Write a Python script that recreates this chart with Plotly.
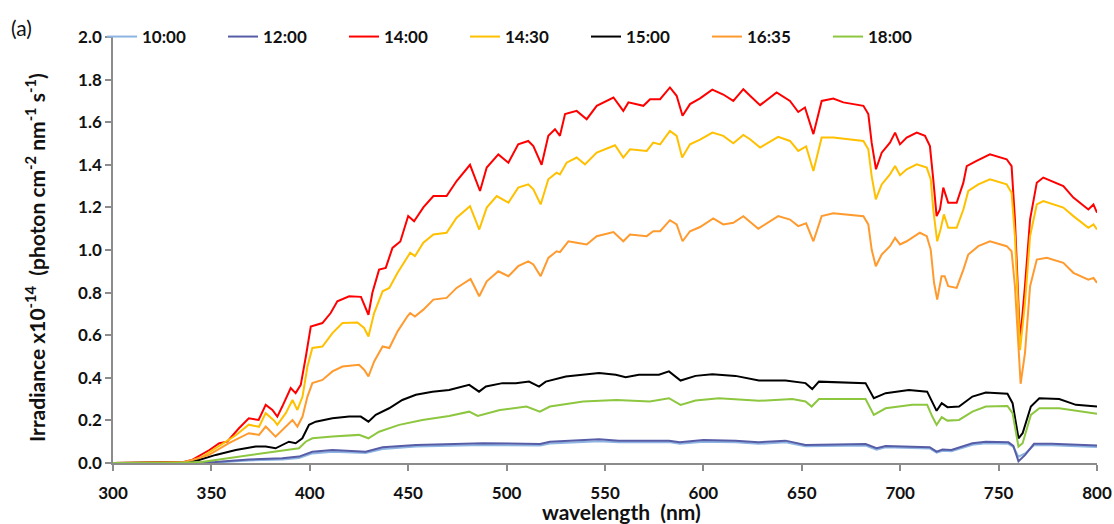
import plotly.graph_objects as go

# ---------------- data ----------------
series_names = ["10:00", "12:00", "14:00", "14:30", "15:00", "16:35", "18:00"]

wl_1000 = [300, 340, 355, 369, 386, 394.5, 401.3, 411.5, 428.4, 437, 454, 488, 517, 522, 547, 557,
           572.4, 582.5, 588, 600, 616.3, 628, 641.7, 651.9, 682.4, 688, 692.6, 715, 718.5, 721.5,
           726, 736.7, 743.5, 755, 757.5, 760.1, 763.5, 768, 777, 800]
irr_1000 = [0, 0, 0.004, 0.012, 0.017, 0.024, 0.045, 0.053, 0.047, 0.066, 0.077, 0.085, 0.082, 0.092,
            0.102, 0.097, 0.097, 0.098, 0.090, 0.100, 0.098, 0.090, 0.097, 0.079, 0.082, 0.063, 0.074,
            0.068, 0.048, 0.057, 0.055, 0.086, 0.093, 0.090, 0.075, 0.030, 0.045, 0.083, 0.083, 0.075]

wl_1200 = [300, 340, 352, 369, 386, 394.5, 401.3, 411.5, 428.4, 437, 454, 488, 517, 522, 547, 557,
           572.4, 582.5, 588, 600, 616.3, 628, 641.7, 651.9, 682.4, 688, 692.6, 715, 718.5, 721.5,
           726, 736.7, 743.5, 755, 757.5, 760.1, 763.5, 768, 777, 800]
irr_1200 = [0, 0, 0.005, 0.017, 0.022, 0.030, 0.053, 0.061, 0.053, 0.074, 0.085, 0.093, 0.089, 0.100,
            0.111, 0.105, 0.105, 0.105, 0.097, 0.108, 0.105, 0.097, 0.105, 0.085, 0.089, 0.069, 0.080,
            0.074, 0.053, 0.063, 0.061, 0.093, 0.100, 0.097, 0.080, 0.008, 0.038, 0.090, 0.090, 0.082]

wl_1400 = [300, 320, 335, 340, 349, 354, 358, 364, 369, 374, 377.6, 381, 383.5, 386, 390.3, 392.8,
           395.4, 398, 400.5, 406.4, 410.6, 414, 420, 426, 428, 429.8, 431.8, 435.2, 438.6, 442, 446,
           450, 453, 457.7, 462.8, 469.5, 474.6, 481.4, 486.5, 489.9, 495.8, 500.9, 505.9, 511, 513.6,
           517.8, 521.2, 524.6, 527.1, 529.7, 535.6, 540.7, 545.8, 554.3, 559.3, 561.9, 569.5, 572.9,
           578, 583, 586.4, 589.4, 593.2, 598.3, 604.5, 610.1, 615.2, 620.3, 623.7, 628.8, 637.2, 644,
           648.2, 651.6, 655.9, 660.1, 666, 671.1, 681.3, 683.8, 685.5, 687.7, 690.6, 694.8, 697.4,
           699.9, 703.3, 708.4, 712.6, 715.1, 716.8, 718.5, 720.2, 721.9, 724.4, 728.7, 732.1, 733.8,
           738.8, 745.6, 754.1, 756.6, 758.3, 760.9, 763.4, 766, 769.4, 772.7, 782.9, 788, 795.6, 798.2,
           800]
irr_1400 = [0, 0, 0.003, 0.014, 0.061, 0.093, 0.100, 0.163, 0.210, 0.202, 0.273, 0.249, 0.218, 0.265,
            0.352, 0.328, 0.367, 0.500, 0.641, 0.657, 0.704, 0.759, 0.783, 0.780, 0.736, 0.696, 0.799,
            0.908, 0.916, 1.010, 1.040, 1.160, 1.135, 1.200, 1.253, 1.253, 1.324, 1.400, 1.277, 1.387,
            1.449, 1.410, 1.496, 1.512, 1.488, 1.400, 1.536, 1.567, 1.536, 1.638, 1.653, 1.614, 1.677,
            1.716, 1.653, 1.693, 1.677, 1.708, 1.708, 1.763, 1.724, 1.630, 1.685, 1.712, 1.753, 1.730,
            1.700, 1.755, 1.724, 1.680, 1.740, 1.700, 1.648, 1.669, 1.544, 1.700, 1.711, 1.693, 1.677,
            1.638, 1.504, 1.379, 1.457, 1.504, 1.551, 1.496, 1.528, 1.551, 1.536, 1.488, 1.332, 1.159,
            1.190, 1.293, 1.222, 1.222, 1.316, 1.394, 1.418, 1.449, 1.426, 1.394, 1.144, 0.570, 0.830,
            1.144, 1.316, 1.340, 1.300, 1.246, 1.190, 1.214, 1.175]

wl_1430 = [300, 320, 336, 343.7, 352.2, 362.4, 369, 374.2, 377.6, 381.8, 383.5, 387.8, 391.2, 393.7,
           396.3, 398.8, 401.3, 406.4, 411.5, 416.6, 424.2, 427.6, 429.8, 432.7, 437, 440.4, 444.6,
           448.9, 451, 453.4, 457.7, 462.8, 469.5, 474.6, 481.4, 486.1, 489.9, 495, 500.9, 505.9, 511,
           513.6, 517.3, 521.2, 525.4, 527.1, 530.5, 535.6, 539.8, 545.8, 555.1, 559.3, 562.7, 571.2,
           574.5, 578, 583, 586.4, 589.2, 593.2, 598.3, 604.6, 610.1, 615.2, 620.3, 623.7, 628.8, 638,
           644, 648.2, 652.2, 655.9, 660.1, 666, 681.3, 683.8, 685.5, 687.6, 690.6, 694.8, 697.4, 699.9,
           703.3, 708.4, 713.5, 715.5, 716.8, 718.8, 720.5, 722.2, 724.4, 728.7, 732.1, 734.6, 739.7,
           745.6, 754.1, 756.6, 758.3, 760.9, 763.4, 766, 769.4, 772.7, 782.9, 788, 795.6, 798.2, 800]
irr_1430 = [0, 0, 0.003, 0.020, 0.070, 0.130, 0.180, 0.170, 0.234, 0.200, 0.179, 0.234, 0.296, 0.249,
            0.312, 0.453, 0.540, 0.547, 0.610, 0.657, 0.660, 0.634, 0.594, 0.704, 0.806, 0.822, 0.893,
            0.955, 0.987, 0.971, 1.034, 1.073, 1.081, 1.152, 1.206, 1.096, 1.199, 1.253, 1.222, 1.293,
            1.308, 1.285, 1.214, 1.332, 1.363, 1.355, 1.410, 1.434, 1.402, 1.457, 1.492, 1.434, 1.473,
            1.465, 1.504, 1.496, 1.559, 1.536, 1.434, 1.496, 1.518, 1.551, 1.536, 1.501, 1.540, 1.520,
            1.481, 1.531, 1.512, 1.465, 1.486, 1.371, 1.528, 1.528, 1.512, 1.473, 1.347, 1.238, 1.308,
            1.355, 1.394, 1.351, 1.379, 1.402, 1.387, 1.332, 1.190, 1.041, 1.096, 1.167, 1.104, 1.104,
            1.190, 1.277, 1.308, 1.332, 1.308, 1.269, 1.065, 0.530, 0.750, 1.065, 1.214, 1.230, 1.199,
            1.159, 1.104, 1.120, 1.096]

wl_1500 = [300, 325, 336, 343.7, 352.2, 362.4, 372.5, 377.6, 382.6, 389.4, 392.8, 396.2, 399.6, 403,
           411.5, 420, 425.9, 429.8, 433.5, 440.3, 447, 453.9, 462.3, 470.8, 481, 486, 489.5, 497.9,
           504.7, 511.4, 516.5, 519.9, 530.1, 538.5, 547, 555.5, 560.5, 567.2, 577.4, 582.5, 588.4, 596,
           604.5, 616.3, 628.2, 641.7, 651.9, 655.3, 658.7, 682.4, 686.6, 692.6, 704.4, 713.7, 716.3,
           718.5, 721.1, 724, 729.9, 736.7, 743.5, 754.5, 757.1, 760.1, 762.2, 766.4, 770.7, 780.8,
           789.3, 800]
irr_1500 = [0, 0, 0.003, 0.014, 0.038, 0.061, 0.077, 0.077, 0.069, 0.100, 0.093, 0.116, 0.179, 0.194,
            0.210, 0.218, 0.218, 0.194, 0.226, 0.257, 0.296, 0.320, 0.335, 0.343, 0.367, 0.335, 0.359,
            0.375, 0.375, 0.382, 0.359, 0.382, 0.406, 0.414, 0.422, 0.414, 0.403, 0.414, 0.414, 0.430,
            0.387, 0.409, 0.417, 0.409, 0.387, 0.387, 0.375, 0.347, 0.382, 0.375, 0.304, 0.328, 0.343,
            0.335, 0.288, 0.245, 0.281, 0.262, 0.265, 0.312, 0.331, 0.325, 0.281, 0.116, 0.140, 0.265,
            0.304, 0.300, 0.273, 0.265]

wl_1635 = [300, 320, 335, 340.3, 348.8, 358.9, 369, 374.2, 377.6, 382.6, 387.8, 391.2, 393.7, 396.3,
           398.8, 401.3, 406.4, 411.5, 416.6, 425, 427.6, 429.8, 432.7, 437, 440.4, 444.6, 449.7, 451,
           453.4, 457.7, 462.8, 469.5, 474.6, 481.7, 486.1, 489.9, 495.8, 500.9, 505.9, 511, 513.6,
           517.3, 521.2, 525.4, 527.1, 531.4, 535.6, 540.7, 545.8, 554.3, 559.3, 562.7, 571.2, 574.5,
           578, 583, 586.4, 589.4, 593.2, 598.3, 605, 610.1, 615.2, 620.3, 627.9, 638, 644, 648.2, 652.2,
           655.9, 660.1, 666, 681.3, 683.8, 685.5, 687.6, 690.6, 694.8, 697.4, 699.9, 703.3, 710, 713.5,
           715.5, 717.2, 718.8, 721, 722.6, 724.4, 728.7, 732.1, 734.6, 739.7, 745.6, 754.1, 756.6,
           758.3, 761.2, 763.4, 766, 769.4, 774.5, 782.9, 788, 795.6, 798.2, 800]
irr_1635 = [0, 0, 0.003, 0.014, 0.038, 0.093, 0.140, 0.132, 0.171, 0.124, 0.171, 0.202, 0.171, 0.218,
            0.312, 0.375, 0.390, 0.430, 0.453, 0.461, 0.438, 0.406, 0.477, 0.547, 0.540, 0.618, 0.690,
            0.704, 0.688, 0.720, 0.767, 0.775, 0.822, 0.864, 0.783, 0.853, 0.900, 0.877, 0.924, 0.947,
            0.932, 0.877, 0.963, 0.994, 0.990, 1.041, 1.034, 1.026, 1.065, 1.084, 1.041, 1.073, 1.065,
            1.088, 1.088, 1.140, 1.120, 1.041, 1.088, 1.108, 1.148, 1.120, 1.128, 1.159, 1.100, 1.159,
            1.143, 1.112, 1.125, 1.041, 1.159, 1.172, 1.159, 1.120, 1.002, 0.924, 0.979, 1.018, 1.057,
            1.026, 1.041, 1.081, 1.065, 1.002, 0.846, 0.767, 0.877, 0.877, 0.830, 0.822, 0.908, 0.979,
            1.018, 1.041, 1.018, 0.994, 0.830, 0.372, 0.516, 0.830, 0.955, 0.963, 0.940, 0.893, 0.861,
            0.869, 0.846]

wl_1800 = [300, 330, 345, 352.2, 362.4, 377.6, 389.4, 394.5, 397.9, 401.3, 411.5, 425, 429.8, 435.2,
           445.4, 457.2, 470.8, 481, 485.3, 496.6, 510.1, 516.9, 522, 538.9, 555.8, 572.8, 582.5, 588.4,
           596, 607.9, 628.2, 645.2, 651.9, 655, 658.7, 682.4, 686.6, 692.6, 706.1, 713.7, 716.3, 718.5,
           721.1, 724, 729.9, 736.7, 743.5, 754.5, 757.1, 760.1, 762.2, 766.4, 770.7, 780.8, 800]
irr_1800 = [0, 0, 0.005, 0.014, 0.030, 0.046, 0.061, 0.069, 0.100, 0.116, 0.124, 0.132, 0.116, 0.147,
            0.179, 0.202, 0.221, 0.241, 0.221, 0.249, 0.265, 0.241, 0.265, 0.289, 0.296, 0.289, 0.304,
            0.273, 0.293, 0.304, 0.292, 0.300, 0.289, 0.265, 0.300, 0.300, 0.226, 0.257, 0.273, 0.273,
            0.218, 0.179, 0.215, 0.199, 0.202, 0.241, 0.265, 0.268, 0.234, 0.077, 0.093, 0.226, 0.257,
            0.257, 0.231]

x_ticks = [300, 350, 400, 450, 500, 550, 600, 650, 700, 750, 800]
y_ticks = [0.0, 0.2, 0.4, 0.6, 0.8, 1.0, 1.2, 1.4, 1.6, 1.8, 2.0]

x_title = "wavelength \u00a0(nm)"
y_title = "Irradiance x10<sup>-14</sup> \u00a0(photon cm<sup>-2</sup> nm<sup>-1</sup> s<sup>-1</sup>)"
panel_label = "(a)"

# ---------------- styling ----------------
colors = ["#8DB4E2", "#575CA6", "#FF0000", "#FFC000", "#000000", "#FF9A2E", "#8DC63F"]
all_wl = [wl_1000, wl_1200, wl_1400, wl_1430, wl_1500, wl_1635, wl_1800]
all_irr = [irr_1000, irr_1200, irr_1400, irr_1430, irr_1500, irr_1635, irr_1800]

FONT = "Lato"
W, H = 1114, 524
ML, MR, MT, MB = 113, 17, 37, 61
PW, PH = W - ML - MR, H - MT - MB


def px_x(px):
    return (px - ML) / PW


def px_y(py):
    return (H - MB - py) / PH


fig = go.Figure()
for name, wl, irr, c in zip(series_names, all_wl, all_irr, colors):
    fig.add_trace(go.Scatter(x=wl, y=irr, mode="lines", name=name,
                             line=dict(color=c, width=2)))

fig.update_layout(
    width=W, height=H,
    margin=dict(l=ML, r=MR, t=MT, b=MB, autoexpand=False),
    paper_bgcolor="white", plot_bgcolor="white",
    font=dict(family=FONT, color="#111111"),
    showlegend=True,
    legend=dict(orientation="h", xref="container", yref="container",
                x=102 / W, y=1 - 37 / H, xanchor="left", yanchor="middle",
                entrywidth=76, entrywidthmode="pixels",
                font=dict(family=FONT, size=17, color="#111111", weight="bold"),
                bgcolor="rgba(0,0,0,0)", borderwidth=0),
    annotations=[
        dict(text=panel_label, xref="paper", yref="paper",
             x=px_x(9), y=px_y(27), xanchor="left", yanchor="middle",
             showarrow=False, font=dict(family=FONT, size=21, color="#111111")),
        dict(text=x_title, xref="paper", yref="paper",
             x=px_x(621), y=px_y(511), xanchor="center", yanchor="middle",
             showarrow=False,
             font=dict(family=FONT, size=21, color="#111111", weight="bold")),
        dict(text=y_title, xref="paper", yref="paper", textangle=-90,
             x=px_x(35), y=px_y(258), xanchor="center", yanchor="middle",
             showarrow=False,
             font=dict(family=FONT, size=21, color="#111111", weight="bold")),
    ],
)

fig.update_xaxes(
    range=[300, 800], tickmode="array", tickvals=x_ticks,
    ticktext=[str(v) for v in x_ticks],
    showgrid=False, zeroline=False,
    showline=True, linecolor="#8C8C8C", linewidth=1.5,
    ticks="outside", ticklen=6, tickcolor="#8C8C8C", tickwidth=1.5,
    ticklabelstandoff=8,
    tickfont=dict(family=FONT, size=17, color="#111111", weight="bold"),
)
fig.update_yaxes(
    range=[0, 2.0], tickmode="array", tickvals=y_ticks,
    ticktext=[f"{v:.1f}" for v in y_ticks],
    showgrid=False, zeroline=False,
    showline=True, linecolor="#8C8C8C", linewidth=1.5,
    ticks="outside", ticklen=6, tickcolor="#8C8C8C", tickwidth=1.5,
    tickfont=dict(family=FONT, size=17, color="#111111", weight="bold"),
)

fig.write_html("out.html")
